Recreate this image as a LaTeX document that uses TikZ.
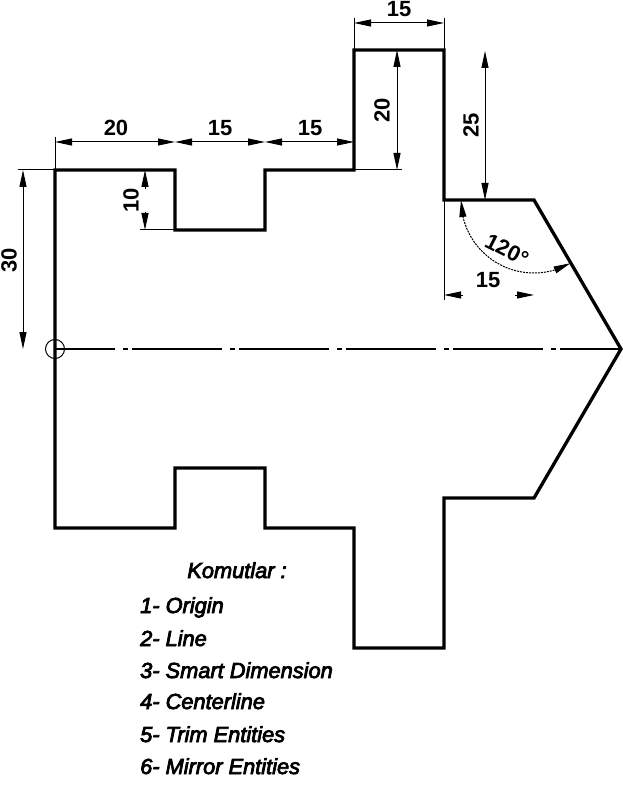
\documentclass[tikz,border=0pt]{standalone}
\usepackage{fontspec}
\setmainfont[ItalicFeatures={FakeBold=3.5}]{Liberation Sans}
\usetikzlibrary{arrows.meta,bending}
\tikzset{
  part/.style={line width=3.3pt,line join=miter,line cap=butt},
  thinline/.style={line width=1pt},
  dimline/.style={line width=1pt,{Triangle[length=17pt,width=7pt]}-{Triangle[length=17pt,width=7pt]}},
  onehead/.style={line width=1pt,-{Triangle[length=17pt,width=7pt]}},
  center/.style={line width=2pt,dash pattern=on 90pt off 8pt on 5pt off 4pt,dash phase=30pt},
  dimtext/.style={font=\fontsize{22}{22}\selectfont\bfseries,inner sep=0pt},
  cmd/.style={font=\fontsize{21.8}{22}\selectfont\itshape,inner sep=0pt,anchor=base west}
}
\begin{document}
\begin{tikzpicture}[x=1pt,y=-1pt]
\useasboundingbox (0,0) rectangle (622,791);
% outline points
\coordinate (O) at (55,349);
\coordinate (TL) at (55,170);
\coordinate (N1) at (175,170);
\coordinate (N2) at (175,230);
\coordinate (N3) at (265,230);
\coordinate (N4) at (265,170);
\coordinate (N5) at (354,170);
\coordinate (N6) at (354,50);
\coordinate (N7) at (444,50);
\coordinate (N8) at (444,200);
\coordinate (N9) at (534,200);
\coordinate (TIP) at (621,349);
\draw[part] (TL) -- (N1) -- (N2) -- (N3) -- (N4) -- (N5) -- (N6) -- (N7) -- (N8) -- (N9) -- (TIP)
  -- (534,498) -- (444,498) -- (444,648) -- (354,648) -- (354,528) -- (265,528) -- (265,468) -- (175,468) -- (175,528) -- (55,528) -- cycle;
\draw[center] (O) -- (TIP);
\node[draw,circle,line width=1pt,minimum size=19pt,inner sep=0pt] (orig) at (O) {};
% extension lines
\draw[thinline] (N6) -- (354,18);
\draw[thinline] (N7) -- (444,18);
\draw[thinline] (TL) -- (55,137);
\draw[thinline] (TL) -- (18,170);
\draw[thinline] (N2) -- (140,230);
\draw[thinline] (N5) -- (402,170);
\draw[thinline] (N8) -- (444,300);
% dimensions
\draw[dimline] (354,23) -- (444,23);
\draw[dimline] (55,142) -- (175,142);
\draw[dimline] (175,142) -- (265,142);
\draw[dimline] (265,142) -- (354,142);
\draw[dimline] (23,170) -- (23,349);
\draw[dimline] (397,50) -- (397,170);
\draw[dimline] (485,51) -- (485,200);
\coordinate (d10a) at (145,189);
\coordinate (d10b) at (145,212);
\draw[onehead] (d10a) -- (145,170);
\draw[onehead] (d10b) -- (145,230);
\coordinate (d15a) at (463,295);
\coordinate (d15b) at (515,295);
\draw[onehead] (d15a) -- (444,295);
\draw[onehead] (d15b) -- (534,295);
% angle
\draw[line width=1pt,dash pattern=on 2pt off 1pt,{Triangle[length=17pt,width=7pt,flex]}-{Triangle[length=17pt,width=7pt,flex]}] (461,200) arc[start angle=180,end angle=300,radius=73pt];
% labels
\node[dimtext] (t1) at (399,9) {15};
\node[dimtext] (t2) at (116,128) {20};
\node[dimtext] (t3) at (220,128) {15};
\node[dimtext] (t4) at (310,128) {15};
\node[dimtext,rotate=90] (t5) at (9,260) {30};
\node[dimtext,rotate=90] (t6) at (131,200) {10};
\node[dimtext,rotate=90] (t7) at (382,110) {20};
\node[dimtext,rotate=90] (t8) at (471,125) {25};
\node[dimtext] (t9) at (488,280) {15};
\node[dimtext,rotate=-27] (t10) at (507,250) {120°};
% commands
\node[font=\fontsize{21.8}{22}\selectfont\itshape,inner sep=0pt,anchor=base] (k) at (237,578) {Komutlar :};
\node[cmd] (c1) at (140,613) {1- Origin};
\node[cmd] (c2) at (140,646) {2- Line};
\node[cmd] (c3) at (140,678) {3- Smart Dimension};
\node[cmd] (c4) at (140,709) {4- Centerline};
\node[cmd] (c5) at (140,742) {5- Trim Entities};
\node[cmd] (c6) at (140,774) {6- Mirror Entities};
\end{tikzpicture}
\end{document}
